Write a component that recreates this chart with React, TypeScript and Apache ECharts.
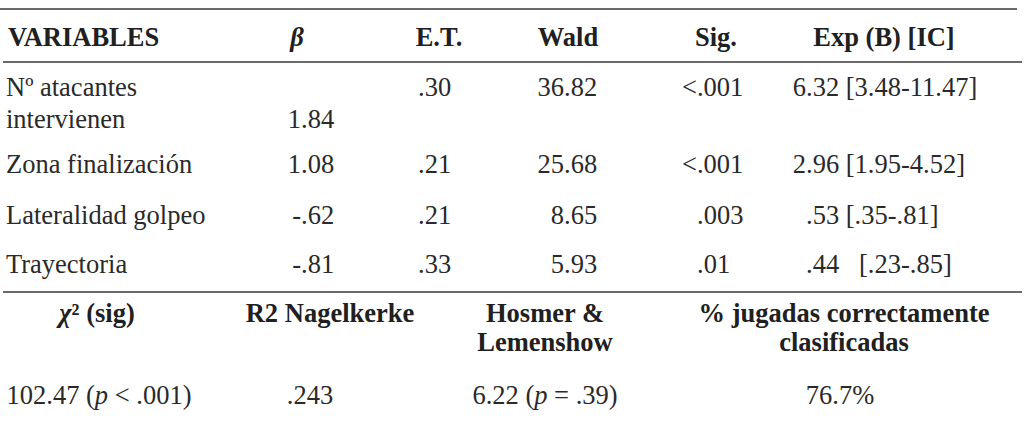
import { useEffect, useRef } from "react";
import * as echarts from "echarts";

// ---- data ----
const headers = ["VARIABLES", "β", "E.T.", "Wald", "Sig.", "Exp (B) [IC]"];
const variables = ["Nº atacantes\nintervienen", "Zona finalización", "Lateralidad golpeo", "Trayectoria"];
const beta = ["1.84", "1.08", "-.62", "-.81"];
const se = [".30", ".21", ".21", ".33"];
const wald = ["36.82", "25.68", "8.65", "5.93"];
const sig = ["<.001", "<.001", ".003", ".01"];
const expB = ["6.32 [3.48-11.47]", "2.96 [1.95-4.52]", ".53 [.35-.81]", ".44   [.23-.85]"];
const fitHeaders = ["χ² (sig)", "R2 Nagelkerke", "Hosmer &\nLemenshow", "% jugadas correctamente\nclasificadas"];
const fitValues = ["102.47 (p < .001)", ".243", "6.22 (p = .39)", "76.7%"];

// ---- layout ----
const FAMILY = "Liberation Serif";
const FS = 26.5;
const TEXT = "#2a2a2a";
const BOLD = "#202020";
const LINE = "#6a6a6a";
const headerY = 37;
const headerX = [8, 297, 439, 568, 716, 884]; // first left, rest centered
const rowY = [87, 164, 215, 264];
const firstRowSecondLine = 119;
const labelX = 6;
const anchors = [301, 418, 564, 697, 806]; // decimal anchors
const fitHeaderX = [97, 330, 545, 844];
const fitHeaderY = 313;
const fitLineGap = 29;
const fitValueX = [99, 310, 545, 840];
const fitValueY = 395;

const REG = { fontFamily: FAMILY, fontSize: FS, fontWeight: "normal", fontStyle: "normal", fill: TEXT };
const ITA = { ...REG, fontStyle: "italic" };
const BLD = { fontFamily: FAMILY, fontSize: FS, fontWeight: "bold", fontStyle: "normal", fill: BOLD };
const BLDI = { ...BLD, fontStyle: "italic" };

function App() {
  const ref = useRef<HTMLDivElement>(null);
  useEffect(() => {
    document.body.style.margin = "0";
    const chart = echarts.init(ref.current!, null, { renderer: "svg" });
    const ctx = document.createElement("canvas").getContext("2d")!;
    ctx.font = `${FS}px "${FAMILY}"`;
    const measure = (s: string) => ctx.measureText(s).width;
    const nb = (s: string) => s.replace(/ {2,}/g, (m) => "\u00a0".repeat(m.length));

    const els: any[] = [];
    const txt = (x: number, y: number, text: string, base: any, align = "left", rich?: any) => {
      els.push({
        type: "text",
        x,
        y,
        silent: true,
        style: {
          text,
          ...base,
          align,
          textAlign: align,
          verticalAlign: "middle",
          textVerticalAlign: "middle",
          rich,
        },
      });
    };
    const line = (x1: number, x2: number, y: number) => {
      els.push({
        type: "line",
        silent: true,
        shape: { x1, y1: y, x2, y2: y },
        style: { stroke: LINE, lineWidth: 2 },
      });
    };

    line(0, 1017, 9);
    line(3, 1022, 62);
    line(3, 1022, 292);

    headers.forEach((h, i) => {
      txt(headerX[i], headerY, h, h === "β" ? BLDI : BLD, i === 0 ? "left" : "center");
    });

    variables.forEach((v, r) => {
      v.split("\n").forEach((ln, k) => {
        txt(labelX, k === 0 ? rowY[r] : firstRowSecondLine, ln, REG);
      });
    });

    const cols = [beta, se, wald, sig, expB];
    cols.forEach((col, c) => {
      col.forEach((val, r) => {
        const s = nb(val);
        const dot = s.indexOf(".");
        const prefix = dot < 0 ? s : s.slice(0, dot);
        const x = anchors[c] - measure(prefix);
        const y = r === 0 && c === 0 ? firstRowSecondLine : rowY[r];
        txt(x, y, s, REG);
      });
    });

    const boldRich = { b: BLD, bi: BLDI };
    fitHeaders.forEach((h, i) => {
      h.split("\n").forEach((ln, k) => {
        const parts = ln.split(/([χβ])/).filter((p) => p.length);
        const t = parts.map((p) => (/^[χβ]$/.test(p) ? `{bi|${p}}` : `{b|${p}}`)).join("");
        txt(fitHeaderX[i], fitHeaderY + k * fitLineGap, t, BLD, "center", boldRich);
      });
    });

    const valRich = { a: REG, i: ITA };
    fitValues.forEach((v, i) => {
      const parts = v.split(/(\(p )/).filter((p) => p.length);
      const t = parts.map((p) => (p === "(p " ? `{a|(}{i|p}{a| }` : `{a|${p}}`)).join("");
      txt(fitValueX[i], fitValueY, t, REG, "center", valRich);
    });

    chart.setOption({ animation: false, graphic: { elements: els } });
    return () => chart.dispose();
  }, []);
  return <div ref={ref} style={{ width: 1032, height: 434 }} />;
}

export default App;
